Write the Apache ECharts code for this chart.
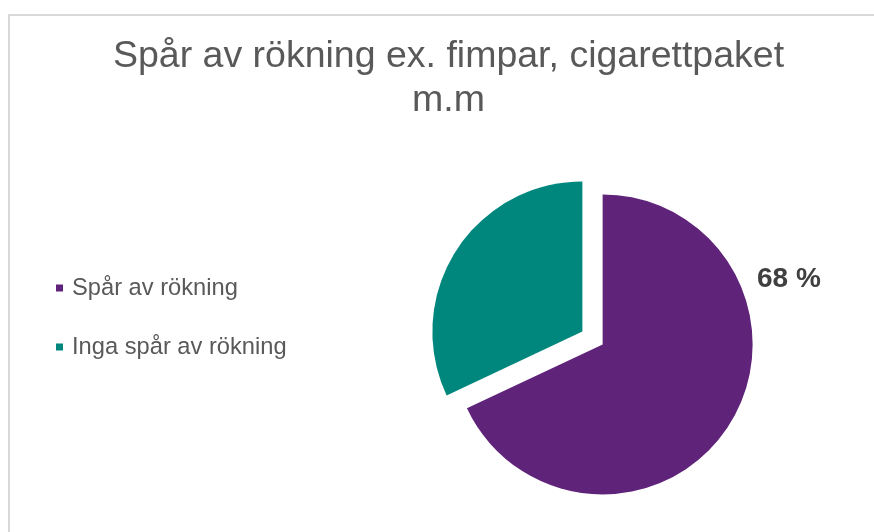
<!DOCTYPE html>
<html>
<head>
<meta charset="utf-8">
<script src="https://cdn.jsdelivr.net/npm/echarts@6/dist/echarts.min.js"></script>
<style>
  html, body { margin: 0; padding: 0; background: #ffffff; }
  #frame { position: absolute; left: 8px; top: 14px; width: 900px; height: 600px;
           border-left: 2px solid #d9d9d9; border-top: 2px solid #d9d9d9; box-sizing: border-box; }
  #chart { position: absolute; left: 0; top: 0; width: 874px; height: 532px; }
</style>
</head>
<body>
<div id="frame"></div>
<div id="chart"></div>
<script>
const titleText = 'Spår av rökning ex. fimpar, cigarettpaket\nm.m';
const categories = ['Spår av rökning', 'Inga spår av rökning'];
const values = [68, 32];
const colors = ['#5f247a', '#00877d'];
const labelShown = [true, false];

const fontFam = 'Liberation Sans, Arial, sans-serif';
const chart = echarts.init(document.getElementById('chart'), null, { renderer: 'canvas' });

// data label for the shown slice(s), built from the values array
const labelTitles = categories
  .map((c, i) => ({ i }))
  .filter(o => labelShown[o.i])
  .map(o => ({
    text: values[o.i] + ' %',
    left: 757,
    top: 265,
    padding: 0,
    textStyle: { fontFamily: fontFam, fontSize: 28, lineHeight: 28, fontWeight: 'bold', color: '#404040' }
  }));

const option = {
  backgroundColor: 'transparent',
  animation: false,
  title: [{
    text: titleText,
    left: 448.5,
    textAlign: 'center',
    top: 34.5,
    padding: 0,
    textStyle: {
      fontFamily: fontFam,
      fontSize: 37.5,
      fontWeight: 'normal',
      color: '#595959',
      lineHeight: 44
    }
  }].concat(labelTitles),
  legend: {
    orient: 'vertical',
    left: 56,
    top: 276,
    padding: 0,
    icon: 'rect',
    itemWidth: 7,
    itemHeight: 7,
    itemGap: 35,
    selectedMode: false,
    data: categories,
    textStyle: {
      fontFamily: fontFam,
      fontSize: 23.7,
      lineHeight: 24,
      color: '#595959',
      padding: [0, 0, 0, 4]
    }
  },
  series: [{
    type: 'pie',
    center: [592.5, 338],
    radius: 150,
    startAngle: 90,
    clockwise: true,
    selectedMode: 'multiple',
    selectedOffset: 12,
    emphasis: { disabled: true },
    label: { show: false },
    labelLine: { show: false },
    data: categories.map((name, i) => ({
      name: name,
      value: values[i],
      selected: true,
      itemStyle: { color: colors[i] }
    }))
  }]
};
chart.setOption(option);
</script>
</body>
</html>
